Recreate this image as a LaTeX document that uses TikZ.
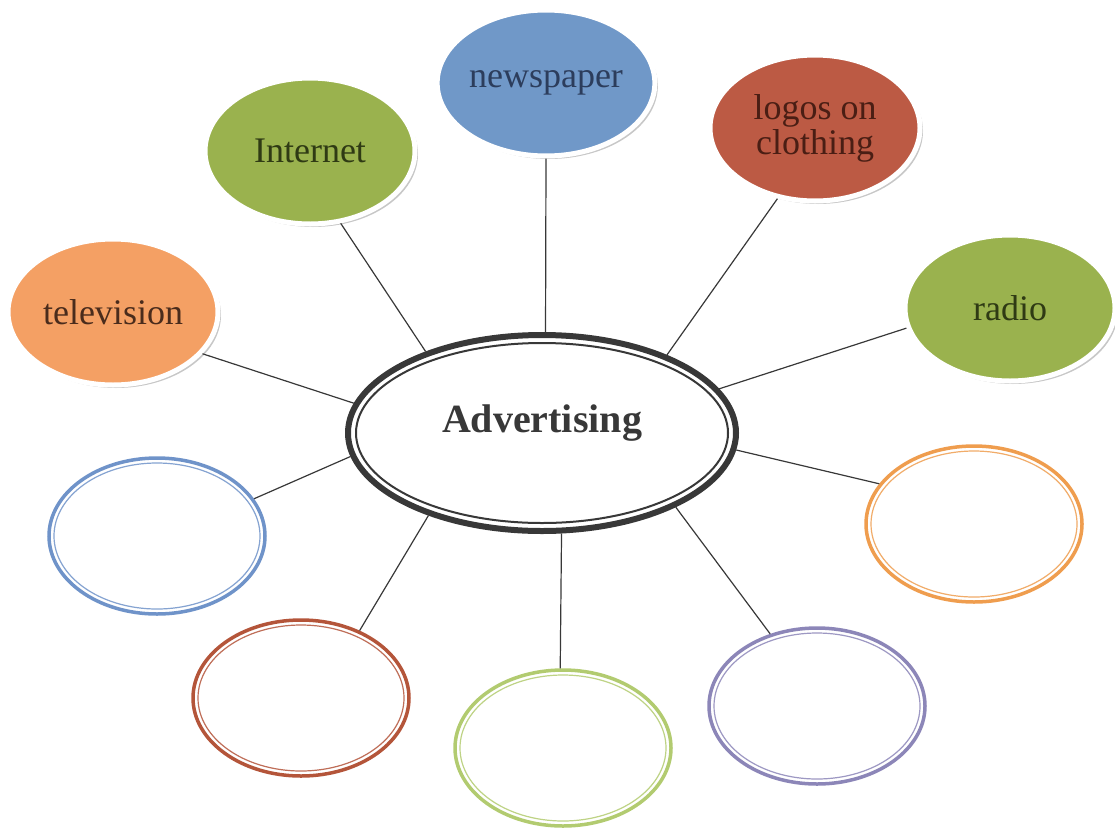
\documentclass[tikz,border=0pt]{standalone}
\usepackage{fontspec}
\setmainfont{Liberation Serif}
\usetikzlibrary{shapes.geometric,shadows}
\definecolor{tvfill}{HTML}{F4A064}
\definecolor{grnfill}{HTML}{9AB24E}
\definecolor{newsfill}{HTML}{7098C8}
\definecolor{logofill}{HTML}{BC5A44}
\definecolor{tvtext}{HTML}{4A2C1C}
\definecolor{grntext}{HTML}{2F3A14}
\definecolor{newstext}{HTML}{2C3D5C}
\definecolor{logotext}{HTML}{4A1E14}
\definecolor{edgeblue}{HTML}{6F93C9}
\definecolor{edgered}{HTML}{B4553A}
\definecolor{edgegreen}{HTML}{B2CB70}
\definecolor{edgepurple}{HTML}{8C86B8}
\definecolor{edgeorange}{HTML}{EF9D4E}
\definecolor{linegray}{HTML}{383838}
\begin{document}
\begin{tikzpicture}[x=1pt,y=-1pt,
  bubble/.style={ellipse, draw=white, line width=5pt, minimum width=210pt,
    minimum height=146pt, inner sep=0pt, align=center,
    font=\fontsize{36}{35}\selectfont,
    drop shadow={shadow xshift=3pt, shadow yshift=-3pt, opacity=0.22, fill=black}},
  ring/.style={ellipse, draw=#1, fill=white, line width=3.5pt, minimum width=216pt,
    minimum height=156pt, inner sep=0pt},
  ringinner/.style={draw=#1!85, line width=1.2pt},
  link/.style={draw=linegray, line width=1.2pt}
]
\useasboundingbox (0,0) rectangle (1115,830);

% centre
\node[ellipse, draw=linegray, fill=white, line width=6pt, minimum width=388pt,
  minimum height=196pt, inner sep=0pt] (main) at (542,433) {};
\draw[linegray, line width=2pt] (main.center) ellipse [x radius=186, y radius=90];
\node[font=\fontsize{40}{40}\selectfont\bfseries, text=linegray] (maintext) at (542,423.5) {Advertising};

% filled bubbles
\node[bubble, fill=tvfill, text=tvtext] (tv) at (113,312) {television};
\node[bubble, fill=grnfill, text=grntext] (internet) at (310,151) {Internet};
\node[bubble, fill=newsfill, text=newstext] (news) at (546,83) {newspaper};
\node[bubble, fill=logofill, text=logotext] (logos) at (815,128) {logos on\\clothing};
\node[bubble, fill=grnfill, text=grntext] (radio) at (1010,308) {radio};

% empty rings
\node[ring=edgeblue] (blue) at (157,536) {};
\draw[ringinner=edgeblue] (blue.center) ellipse [x radius=103, y radius=73];
\node[ring=edgeorange] (orange) at (974,524) {};
\draw[ringinner=edgeorange] (orange.center) ellipse [x radius=103, y radius=73];
\node[ring=edgered] (red) at (301,698) {};
\draw[ringinner=edgered] (red.center) ellipse [x radius=103, y radius=73];
\node[ring=edgegreen] (green) at (563,748) {};
\draw[ringinner=edgegreen] (green.center) ellipse [x radius=103, y radius=73];
\node[ring=edgepurple] (purple) at (817,706) {};
\draw[ringinner=edgepurple] (purple.center) ellipse [x radius=103, y radius=73];

% connectors
\draw[link] (main.171.5) -- (tv.-25);
\draw[link] (main.145) -- (internet.-67);
\draw[link] (main.88) -- (news.-90);
\draw[link] (main.32) -- (logos.242);
\draw[link] (main.14) -- (radio.191);
\draw[link] (main.187.7) -- (blue.21);
\draw[link] (main.-5.2) -- (orange.157);
\draw[link] (main.216) -- (red.49);
\draw[link] (main.-79.5) -- (green.92);
\draw[link] (main.-29) -- (purple.123);
\end{tikzpicture}
\end{document}
